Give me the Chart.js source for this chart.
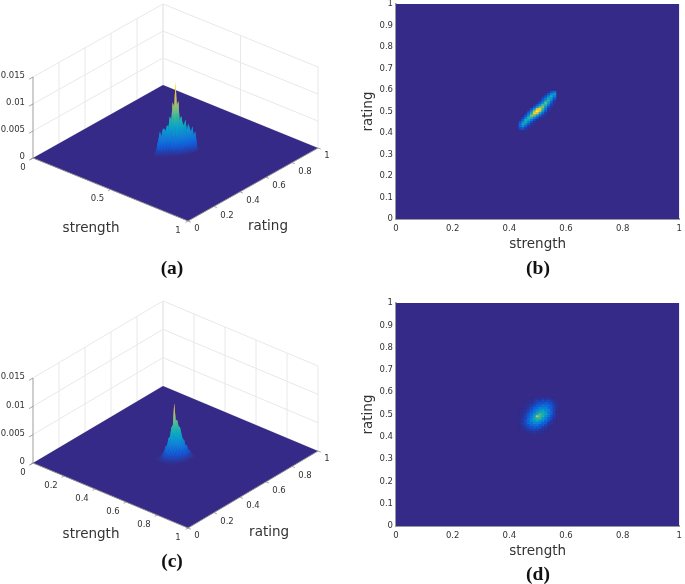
<!DOCTYPE html>
<html>
<head>
<meta charset="utf-8">
<script src="https://cdn.jsdelivr.net/npm/chart.js@4"></script>
<style>
  html, body { margin: 0; padding: 0; background: #fff; width: 685px; height: 584px; overflow: hidden; }
  .panel { position: absolute; filter: blur(0.35px); }
  .caption { position: absolute; font: bold 19.5px "Liberation Serif", serif; color: #111; transform: translate(-50%, -50%); filter: blur(0.3px); }
</style>
</head>
<body>
<div class="panel" style="left:0;top:0"><canvas id="chartA" width="340" height="250"></canvas></div>
<div class="panel" style="left:345px;top:-3px"><canvas id="chartB" width="340" height="256"></canvas></div>
<div class="panel" style="left:0;top:295px"><canvas id="chartC" width="340" height="255"></canvas></div>
<div class="panel" style="left:345px;top:295px"><canvas id="chartD" width="340" height="265"></canvas></div>
<div class="caption" style="left:172px;top:268px">(a)</div>
<div class="caption" style="left:538px;top:268px">(b)</div>
<div class="caption" style="left:172px;top:561px">(c)</div>
<div class="caption" style="left:538px;top:574px">(d)</div>
<script>
// grid of the narrow distribution, panels a and b (values in 1e-3)
const strengthNarrow = [0.44, 0.45, 0.46, 0.47, 0.48, 0.49, 0.50, 0.51, 0.52, 0.53, 0.54, 0.55, 0.56];
const ratingNarrow = [0.59, 0.58, 0.57, 0.56, 0.55, 0.54, 0.53, 0.52, 0.51, 0.50, 0.49, 0.48, 0.47, 0.46, 0.45, 0.44, 0.43, 0.42];
const densityNarrow = [
  [0, 0, 0, 0, 0, 0, 0, 0, 0, 0, 0.2, 0.9, 1.6],
  [0, 0, 0, 0, 0, 0, 0, 0, 0, 0.2, 1.1, 2.8, 3.6],
  [0, 0, 0, 0, 0, 0, 0, 0, 0.2, 0.9, 2.6, 4.6, 2.4],
  [0, 0, 0, 0, 0, 0, 0, 0, 0.8, 2.0, 4.4, 3.6, 1.2],
  [0, 0, 0, 0, 0, 0, 0, 0.3, 1.5, 3.4, 5.2, 2.4, 0.5],
  [0, 0, 0, 0, 0, 0, 0.2, 1.0, 2.8, 6.0, 4.0, 1.2, 0.2],
  [0, 0, 0, 0, 0, 0.2, 1.0, 2.8, 5.4, 5.0, 2.4, 0.5, 0],
  [0, 0, 0, 0, 0, 1.0, 3.2, 5.8, 6.8, 3.4, 1.0, 0.2, 0],
  [0, 0, 0, 0, 1.1, 3.4, 8.6, 9.6, 5.2, 2.0, 0.4, 0, 0],
  [0, 0, 0, 0.7, 2.6, 7.4, 13.2, 8.0, 3.4, 1.0, 0.2, 0, 0],
  [0, 0, 0.3, 1.8, 4.8, 9.4, 8.6, 4.2, 1.5, 0.3, 0, 0, 0],
  [0, 0, 1.1, 3.4, 6.8, 6.2, 3.6, 1.6, 0.4, 0, 0, 0, 0],
  [0, 0.6, 2.4, 5.2, 5.0, 2.8, 1.2, 0.2, 0, 0, 0, 0, 0],
  [0.2, 1.6, 4.6, 4.2, 2.4, 0.9, 0.2, 0, 0, 0, 0, 0, 0],
  [0.9, 3.0, 4.6, 2.4, 1.0, 0.2, 0, 0, 0, 0, 0, 0, 0],
  [1.6, 4.2, 2.8, 1.1, 0.3, 0, 0, 0, 0, 0, 0, 0, 0],
  [1.6, 3.0, 1.2, 0.3, 0, 0, 0, 0, 0, 0, 0, 0, 0],
  [0.7, 1.0, 0.3, 0, 0, 0, 0, 0, 0, 0, 0, 0, 0]
];

// grid of the round distribution, panels c and d (values in 1e-3)
const strengthRound = [0.44, 0.45, 0.46, 0.47, 0.48, 0.49, 0.50, 0.51, 0.52, 0.53, 0.54, 0.55, 0.56, 0.57];
const ratingRound = [0.57, 0.56, 0.55, 0.54, 0.53, 0.52, 0.51, 0.50, 0.49, 0.48, 0.47, 0.46, 0.45, 0.44, 0.43, 0.42];
const densityRound = [
  [0, 0, 0, 0, 0.1, 0.2, 0.3, 0.2, 0.5, 0.3, 0.4, 0.2, 0.1, 0],
  [0, 0, 0, 0.1, 0.2, 0.3, 0.6, 0.5, 0.9, 0.7, 0.9, 0.5, 0.3, 0.1],
  [0, 0, 0.1, 0.2, 0.2, 0.6, 0.9, 1.3, 1.0, 1.6, 1.1, 1.0, 0.4, 0.2],
  [0, 0.1, 0.1, 0.3, 0.6, 0.8, 1.6, 1.4, 2.3, 1.9, 2.0, 1.1, 0.7, 0.2],
  [0, 0.1, 0.2, 0.4, 0.9, 1.5, 1.9, 2.9, 2.6, 3.0, 1.9, 1.6, 0.6, 0.2],
  [0.1, 0.1, 0.3, 0.7, 1.2, 2.2, 2.7, 3.6, 4.2, 3.2, 2.9, 1.3, 0.8, 0.1],
  [0.1, 0.2, 0.4, 0.9, 1.9, 2.6, 4.2, 4.9, 5.4, 4.3, 2.7, 1.9, 0.6, 0.1],
  [0.1, 0.3, 0.6, 1.4, 2.2, 3.9, 5.1, 6.7, 5.6, 4.9, 3.0, 1.4, 0.6, 0.1],
  [0.2, 0.3, 0.9, 1.5, 3.2, 4.4, 9.6, 6.6, 5.8, 3.7, 2.6, 1.1, 0.4, 0],
  [0.2, 0.5, 0.8, 2.2, 3.0, 5.3, 5.9, 6.0, 4.1, 3.1, 1.5, 0.9, 0.3, 0],
  [0.2, 0.4, 1.2, 1.8, 3.5, 3.9, 5.0, 3.6, 3.2, 1.8, 1.3, 0.4, 0.1, 0],
  [0.2, 0.5, 1.0, 2.1, 2.4, 3.6, 3.1, 2.9, 1.7, 1.4, 0.5, 0.3, 0, 0],
  [0.1, 0.4, 0.9, 1.3, 2.2, 2.0, 2.4, 1.4, 1.3, 0.6, 0.4, 0.1, 0, 0],
  [0.1, 0.3, 0.5, 1.0, 1.1, 1.6, 1.1, 1.1, 0.5, 0.4, 0.1, 0, 0, 0],
  [0.1, 0.2, 0.3, 0.5, 0.8, 0.6, 0.7, 0.4, 0.3, 0.1, 0.1, 0, 0, 0],
  [0, 0.1, 0.2, 0.2, 0.3, 0.4, 0.2, 0.2, 0.1, 0.1, 0, 0, 0, 0]
];

const ratingTicks = [0, 0.2, 0.4, 0.6, 0.8, 1];
const strengthTicksA = [0, 0.5, 1];
const strengthTicksC = [0, 0.2, 0.4, 0.6, 0.8, 1];
const densityTicks = [0, 0.005, 0.01, 0.015];
const densityTickLabels = ["0", "0.005", "0.01", "0.015"];

Chart.defaults.font.family = '"DejaVu Sans", sans-serif';
Chart.defaults.animation = false;

const PARULA = [
  [53, 42, 135], [15, 92, 221], [18, 125, 216], [7, 156, 207], [21, 177, 180],
  [89, 189, 140], [165, 190, 107], [225, 185, 82], [252, 206, 46], [249, 251, 14]
];
const FLOOR = "rgb(53,42,135)";
const WALL_LINE = "#e8e8e8";
const AXIS_LINE = "#8c8c8c";
const TEXT = "#333";

function parula(t) {
  t = Math.max(0, Math.min(1, t)) * (PARULA.length - 1);
  const i = Math.min(Math.floor(t), PARULA.length - 2);
  const f = t - i;
  const c = PARULA[i].map((v, k) => Math.round(v + (PARULA[i + 1][k] - v) * f));
  return `rgb(${c[0]},${c[1]},${c[2]})`;
}

function lineSet(points, color, width) {
  return { data: points, showLine: true, pointRadius: 0, borderColor: color, borderWidth: width, fill: false };
}

function polygonSet(points, background, edge) {
  return {
    data: points, showLine: true, pointRadius: 0, tension: 0, fill: "shape",
    backgroundColor: background, borderColor: edge || "rgba(0,0,0,0)", borderWidth: edge ? 0.5 : 0
  };
}

// 3D panels: scatter chart whose scales run in projected units
function surfaceChart(id, view, strengths, ratings, density, strengthTicks, colorMax) {
  const project = (s, r, z) => ({
    x: view.ox + s * view.sx + r * view.rx,
    y: view.oy + s * view.sy + r * view.ry - z / 0.015 * view.zh
  });
  const sets = [];

  // walls
  densityTicks.forEach(z => {
    sets.push(lineSet([project(0, 0, z), project(0, 1, z), project(1, 1, z)], WALL_LINE, 1));
  });
  ratingTicks.forEach(r => {
    sets.push(lineSet([project(0, r, 0), project(0, r, 0.015)], WALL_LINE, 1));
  });
  strengthTicks.forEach(s => {
    sets.push(lineSet([project(s, 1, 0), project(s, 1, 0.015)], WALL_LINE, 1));
  });

  // axes and ticks
  sets.push(lineSet([project(0, 0, 0), project(0, 0, 0.015)], "#a8a8a8", 1));
  sets.push(polygonSet([project(0, 0, 0), project(1, 0, 0), project(1, 1, 0), project(0, 1, 0), project(0, 0, 0)], FLOOR));
  sets.push(lineSet([project(0, 0, 0), project(1, 0, 0), project(1, 1, 0)], AXIS_LINE, 1));
  strengthTicks.forEach(s => sets.push(lineSet([project(s, 0, 0), project(s, -0.018, 0)], AXIS_LINE, 0.8)));
  ratingTicks.forEach(r => sets.push(lineSet([project(1, r, 0), project(1.018, r, 0)], AXIS_LINE, 0.8)));
  densityTicks.forEach(z => sets.push(lineSet([project(0, 0, z), project(0, -0.03, z)], AXIS_LINE, 0.8)));

  // surface, back to front
  const at = (c, j) => (density[j] && density[j][c] !== undefined ? density[j][c] / 1000 : 0);
  const stepS = 0.01, stepR = 0.01;
  for (let c = -1; c < strengths.length; c++) {
    for (let j = -1; j < ratings.length; j++) {
      const s0 = strengths[0] + c * stepS, r0 = ratings[0] - j * stepR;
      const z = [at(c, j), at(c + 1, j), at(c + 1, j + 1), at(c, j + 1)];
      if (z.every(v => v === 0)) continue;
      const corners = [
        project(s0, r0, z[0]), project(s0 + stepS, r0, z[1]),
        project(s0 + stepS, r0 - stepR, z[2]), project(s0, r0 - stepR, z[3])
      ];
      const lo = Math.min(...z), hi = Math.max(...z);
      const topY = Math.min(...corners.map(p => p.y));
      const botY = Math.max(...corners.map(p => p.y));
      const fillFor = ctx => {
        const sc = ctx.chart.scales.y;
        const y0 = sc ? sc.getPixelForValue(botY) : NaN;
        const y1 = sc ? sc.getPixelForValue(topY) : NaN;
        if (!isFinite(y0) || !isFinite(y1)) return parula(hi / colorMax);
        const g = ctx.chart.ctx.createLinearGradient(0, y0, 0, y1);
        for (let k = 0; k <= 4; k++) g.addColorStop(k / 4, parula((lo + (hi - lo) * k / 4) / colorMax));
        return g;
      };
      sets.push(polygonSet([...corners, corners[0]], fillFor));
    }
  }

  const labels = {
    id: "surfaceLabels",
    afterDraw(chart) {
      const { ctx, scales } = chart;
      const put = (text, p, dx, dy, size, align) => {
        ctx.font = `${size}px "DejaVu Sans"`;
        ctx.fillStyle = TEXT;
        ctx.textAlign = align || "center";
        ctx.textBaseline = "middle";
        ctx.fillText(text, scales.x.getPixelForValue(p.x) + dx, scales.y.getPixelForValue(p.y) + dy);
      };
      densityTicks.forEach((z, i) => put(densityTickLabels[i], project(0, 0, z), -8, -1, 8.5, "right"));
      strengthTicks.forEach(s => {
        const end = s === 0 || s === 1;
        put(String(s), project(s, 0, 0), end ? -10 : -13, end ? 10 : 9.5, 8.5);
      });
      ratingTicks.forEach(r => {
        const end = r === 0 || r === 1;
        put(String(r), project(1, r, 0), end ? 9 : 13, end ? 8 : 9, 8.5);
      });
      put("strength", project(view.titleS[0], view.titleS[1], 0), 0, 0, 13.5);
      put("rating", project(view.titleR[0], view.titleR[1], 0), 0, 0, 13.5);
    }
  };

  new Chart(document.getElementById(id), {
    type: "scatter",
    data: { datasets: sets.reverse() },
    plugins: [labels],
    options: {
      responsive: false,
      events: [],
      layout: { padding: 0 },
      plugins: { legend: { display: false }, tooltip: { enabled: false }, title: { display: false } },
      scales: {
        x: { type: "linear", display: false, min: 0, max: view.w },
        y: { type: "linear", display: false, min: 0, max: view.h, reverse: true }
      }
    }
  });
}

// heatmap panels: every cell is a small polygon on the chart's own scales
function heatChart(id, strengths, ratings, density, colorMax, box) {
  const sets = [polygonSet([{ x: 0, y: 0 }, { x: 1, y: 0 }, { x: 1, y: 1 }, { x: 0, y: 1 }, { x: 0, y: 0 }], FLOOR)];
  density.forEach((row, j) => {
    row.forEach((v, c) => {
      if (v === 0) return;
      const s = strengths[c], r = ratings[j], col = parula(v / 1000 / colorMax);
      sets.push(polygonSet([
        { x: s - 0.005, y: r - 0.005 }, { x: s + 0.005, y: r - 0.005 },
        { x: s + 0.005, y: r + 0.005 }, { x: s - 0.005, y: r + 0.005 },
        { x: s - 0.005, y: r - 0.005 }
      ], col, col));
    });
  });
  const tickFont = { size: 8.5 };
  const shortTick = v => String(Number(v.toFixed(1)));
  new Chart(document.getElementById(id), {
    type: "scatter",
    data: { datasets: sets.reverse() },
    options: {
      responsive: false,
      events: [],
      layout: { padding: { top: box.top, right: box.right, left: 15, bottom: 0 } },
      plugins: { legend: { display: false }, tooltip: { enabled: false } },
      scales: {
        x: {
          type: "linear", min: 0, max: 1,
          grid: { display: false, drawTicks: true, tickLength: 2 },
          border: { color: "#9a9a9a", width: 2 },
          afterFit: s => { s.height = box.bottom; },
          ticks: { stepSize: 0.2, color: TEXT, font: tickFont, padding: 3, maxRotation: 0, autoSkip: false, callback: shortTick },
          title: { display: true, text: "strength", color: TEXT, font: { size: 13.5 }, padding: { top: 0, bottom: 0 } }
        },
        y: {
          type: "linear", min: 0, max: 1,
          grid: { display: false, drawTicks: true, tickLength: 2 },
          border: { color: "#9a9a9a", width: 1.5 },
          afterFit: s => { s.width = 36; },
          ticks: { stepSize: 0.1, color: TEXT, font: tickFont, padding: 1, autoSkip: false, callback: shortTick },
          title: { display: true, text: "rating", color: TEXT, font: { size: 13.5 }, padding: { top: 0, bottom: 0 } }
        }
      }
    }
  });
}

surfaceChart("chartA", {
  w: 340, h: 250, ox: 33, oy: 158, sx: 155, sy: 63, rx: 130, ry: -73, zh: 81,
  titleS: [0.684, -0.369], titleR: [1.333, 0.218]
}, strengthNarrow, ratingNarrow, densityNarrow, strengthTicksA, 0.0135);

heatChart("chartB", strengthNarrow, ratingNarrow, densityNarrow, 0.0105, { top: 7, right: 5, bottom: 34 });

surfaceChart("chartC", {
  w: 340, h: 255, ox: 33, oy: 168, sx: 155, sy: 65, rx: 130, ry: -77, zh: 85,
  titleS: [0.678, -0.362], titleR: [1.332, 0.228]
}, strengthRound, ratingRound, densityRound, strengthTicksC, 0.0115);

heatChart("chartD", strengthRound, ratingRound, densityRound, 0.0125, { top: 8, right: 5, bottom: 34 });
</script>
</body>
</html>
